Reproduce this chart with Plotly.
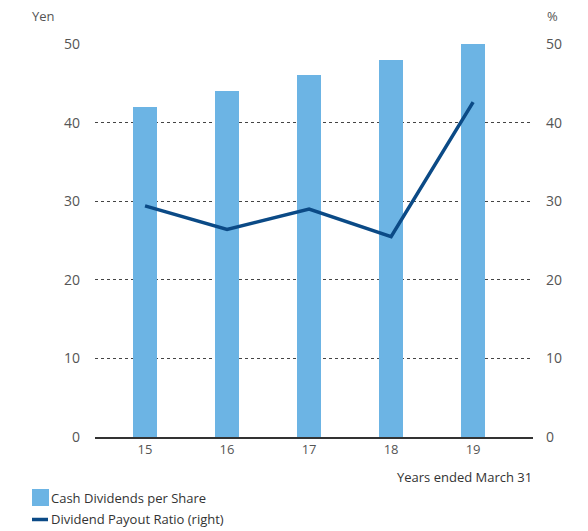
import plotly.graph_objects as go

years = ["15", "16", "17", "18", "19"]
cash_dividends = [42, 44, 46, 48, 50]
payout_ratio = [29.4, 26.4, 29.0, 25.5, 42.6]
ticks = [0, 10, 20, 30, 40, 50]

FONT = "Open Sans, Noto Sans, sans-serif"
GRAY = "#555555"
BAR_COLOR = "#6cb4e4"
LINE_COLOR = "#0b4a86"

fig = go.Figure()
fig.add_trace(go.Bar(x=years, y=cash_dividends, name="Cash Dividends per Share",
                     marker=dict(color=BAR_COLOR, line=dict(width=0)), width=0.29,
                     showlegend=False))
fig.add_trace(go.Scatter(x=years, y=payout_ratio, name="Dividend Payout Ratio (right)",
                         mode="lines", line=dict(color=LINE_COLOR, width=3.5), yaxis="y2",
                         showlegend=False))

# Manual legend (pixel-positioned in paper coords; plot area 438 x 393 px)
W, H = 438.0, 393.0
def px_x(p):
    return (p - 95) / W
def px_y(p):
    return (437 - p) / H

shapes = [
    dict(type="rect", xref="paper", yref="paper", x0=px_x(32), x1=px_x(49),
         y0=px_y(506), y1=px_y(489), fillcolor=BAR_COLOR, line=dict(width=0)),
    dict(type="line", xref="paper", yref="paper", x0=px_x(32), x1=px_x(48),
         y0=px_y(519.5), y1=px_y(519.5), line=dict(color=LINE_COLOR, width=3.5)),
]

fig.update_layout(
    width=588, height=531,
    margin=dict(l=95, r=55, t=44, b=94, autoexpand=False),
    plot_bgcolor="white", paper_bgcolor="white",
    font=dict(family=FONT, size=13, color=GRAY),
    showlegend=False,
    xaxis=dict(type="category", range=[-0.61, 4.73], showgrid=False, ticks="",
               showline=True, linecolor="#333333", linewidth=1.5,
               tickfont=dict(size=13, color=GRAY)),
    yaxis=dict(range=[0, 50], tickvals=ticks, showgrid=True, gridcolor="#444444",
               griddash="dot", gridwidth=1, zeroline=False, ticks="",
               ticklabelstandoff=14, tickfont=dict(size=14, color=GRAY)),
    yaxis2=dict(range=[0, 50], tickvals=ticks, overlaying="y", side="right",
                showgrid=False, zeroline=False, ticks="", ticklabelstandoff=12,
                tickfont=dict(size=14, color=GRAY)),
    bargap=0,
    shapes=shapes,
    annotations=[
        dict(text="Yen", xref="paper", yref="paper", x=px_x(43), y=px_y(16),
             xanchor="center", yanchor="middle", showarrow=False,
             font=dict(size=13, color=GRAY)),
        dict(text="%", xref="paper", yref="paper", x=px_x(552), y=px_y(16),
             xanchor="center", yanchor="middle", showarrow=False,
             font=dict(size=13, color=GRAY)),
        dict(text="Years ended March 31", xref="paper", yref="paper", x=px_x(534),
             y=px_y(477), xanchor="right", yanchor="middle", showarrow=False,
             font=dict(size=13, color="#333333")),
        dict(text="Cash Dividends per Share", xref="paper", yref="paper", x=px_x(49),
             y=px_y(498), xanchor="left", yanchor="middle", showarrow=False,
             font=dict(size=13, color="#333333")),
        dict(text="Dividend Payout Ratio (right)", xref="paper", yref="paper", x=px_x(49),
             y=px_y(519), xanchor="left", yanchor="middle", showarrow=False,
             font=dict(size=13, color="#333333")),
    ],
)

fig.write_html("out.html")
